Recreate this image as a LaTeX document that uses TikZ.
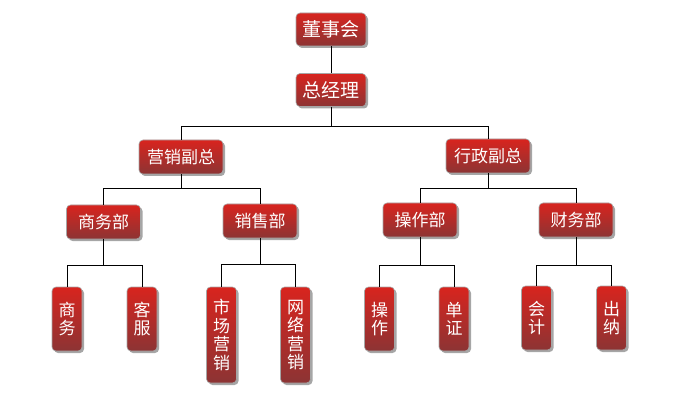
\documentclass[tikz,border=0pt]{standalone}
\usepackage{fontspec}
\setmainfont{Noto Sans CJK SC}
\usetikzlibrary{shadows}
\definecolor{boxtop}{HTML}{D8241E}
\definecolor{boxbot}{HTML}{8C3434}
\tikzset{
  box/.style={rounded corners=4pt, draw=gray!70, line width=0.6pt,
    top color=boxtop, bottom color=boxbot, text=white, inner sep=0pt,
    drop shadow={shadow xshift=2pt, shadow yshift=-2pt, fill=black, opacity=0.35}},
  topbox/.style={box, minimum width=70pt, minimum height=33pt, font=\fontsize{19}{19}\selectfont},
  vpbox/.style={box, minimum width=84pt, minimum height=34pt, font=\fontsize{17}{17}\selectfont},
  deptbox/.style={box, minimum width=74pt, minimum height=34pt, font=\fontsize{17}{17}\selectfont},
  leafbox/.style={box, minimum width=30pt, align=center, font=\fontsize{17}{18.5}\selectfont},
  link/.style={draw=black, line width=0.8pt}
}
\begin{document}
\begin{tikzpicture}[x=1pt,y=-1pt]
	\useasboundingbox (0,0) rectangle (694,401);
	% top
	\node[topbox] (dongshi) at (331,29.5) {董事会};
	\node[topbox] (zongjingli) at (331,90) {总经理};
	% second level
	\node[vpbox] (yingxiao) at (181,157) {营销副总};
	\node[vpbox] (xingzheng) at (488,156) {行政副总};
	% departments
	\node[deptbox] (shangwubu) at (103.5,222) {商务部};
	\node[deptbox] (xiaoshoubu) at (260,221) {销售部};
	\node[deptbox] (caozuobu) at (420,220) {操作部};
	\node[deptbox] (caiwubu) at (576,220) {财务部};
	% leaves
	\node[leafbox, minimum height=64pt] (shangwu) at (67,319) {商\\务};
	\node[leafbox, minimum height=64pt] (kefu) at (142,319) {客\\服};
	\node[leafbox, minimum height=96pt] (shichang) at (221.5,335) {市\\场\\营\\销};
	\node[leafbox, minimum height=96pt] (wangluo) at (295.5,335) {网\\络\\营\\销};
	\node[leafbox, minimum height=64pt] (caozuo) at (379.5,319) {操\\作};
	\node[leafbox, minimum height=64pt] (danzheng) at (454,319) {单\\证};
	\node[leafbox, minimum height=64pt] (kuaiji) at (536.5,318) {会\\计};
	\node[leafbox, minimum height=64pt] (chuna) at (611.5,318) {出\\纳};
	% connectors
	\draw[link] (dongshi) -- (zongjingli);
	\draw[link] (zongjingli.south) -- ++(0,20) -| (yingxiao.north);
	\draw[link] (zongjingli.south) -- ++(0,20) -| (xingzheng.north);
	\draw[link] (yingxiao.south) -- ++(0,14) -| (shangwubu.north);
	\draw[link] (yingxiao.south) -- ++(0,14) -| (xiaoshoubu.north);
	\draw[link] (xingzheng.south) -- ++(0,15) -| (caozuobu.north);
	\draw[link] (xingzheng.south) -- ++(0,15) -| (caiwubu.north);
	\draw[link] (shangwubu.south) -- ++(0,26) -| (shangwu.north);
	\draw[link] (shangwubu.south) -- ++(0,26) -| (kefu.north);
	\draw[link] (xiaoshoubu.south) -- ++(0,26) -| (shichang.north);
	\draw[link] (xiaoshoubu.south) -- ++(0,26) -| (wangluo.north);
	\draw[link] (caozuobu.south) -- ++(0,28) -| (caozuo.north);
	\draw[link] (caozuobu.south) -- ++(0,28) -| (danzheng.north);
	\draw[link] (caiwubu.south) -- ++(0,28) -| (kuaiji.north);
	\draw[link] (caiwubu.south) -- ++(0,28) -| (chuna.north);
\end{tikzpicture}
\end{document}
